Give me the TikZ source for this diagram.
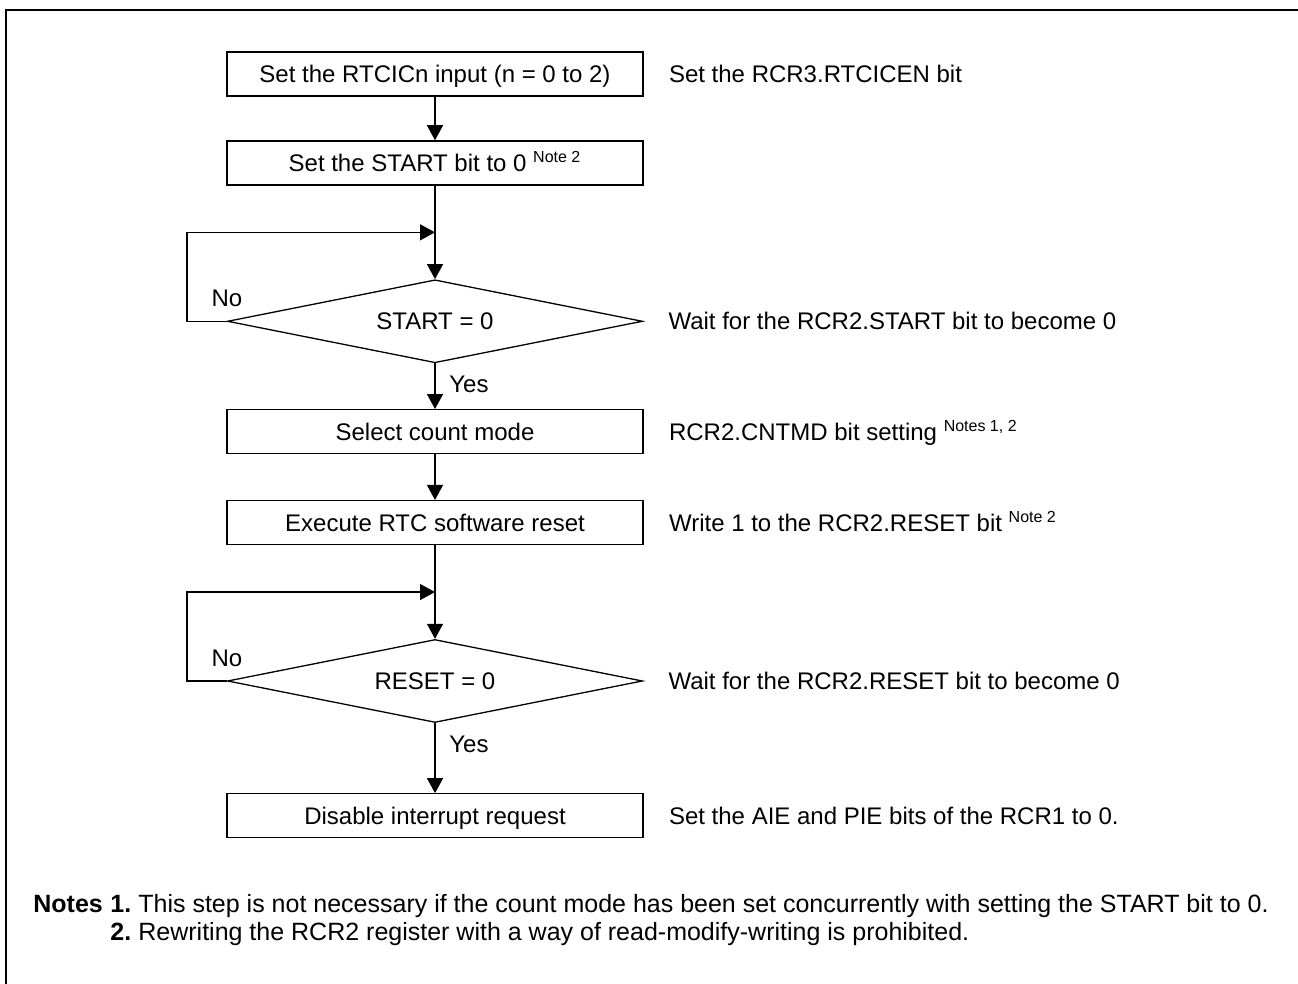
\documentclass[tikz,border=0pt]{standalone}
\usepackage{fontspec}
\setmainfont{Liberation Sans}
\usepackage{tikz}
\usetikzlibrary{positioning, arrows.meta, shapes.geometric, calc}

\begin{document}
\begin{tikzpicture}[
    x=0.5pt, y=-0.5pt,
    font=\fontsize{12}{14.4}\selectfont,
    >={Triangle[length=7.5pt, width=8pt]},
    proc/.style={
        draw, line width=0.65pt, align=center,
        minimum width=208pt, minimum height=22pt, inner sep=0pt,
        text height=8.6pt, text depth=0pt,
    },
    decide/.style={
        draw, line width=0.65pt, shape=diamond, aspect=5,
        minimum width=207.5pt, minimum height=41.5pt, inner sep=0pt,
        text height=8.6pt, text depth=0pt,
    },
    note/.style={inner sep=0pt, text height=8.6pt, text depth=0pt},
    lbl/.style={inner sep=0pt},
    foot/.style={inner sep=0pt, anchor=base west, font=\fontsize{12.5}{15}\selectfont},
    arr/.style={->, line width=0.65pt},
    frame/.style={line width=1pt},
]
\useasboundingbox (0,0) rectangle (1298,984);

% --- Frame --------------------------------------------------
\draw[frame] (1298,10) -| (6,984);

% --- Flow ---------------------------------------------------
\node[proc] (rtcic) at (435,74) {Set the RTCICn input (n = 0 to 2)};
\node[proc, below=21.8pt of rtcic] (start)
    {Set the START bit to 0 \textsuperscript{Note 2}};
\node[decide, below=46.8pt of start] (startq) {START = 0};
\node[proc, below=22.8pt of startq] (cntmd) {Select count mode};
\node[proc, below=22.8pt of cntmd] (swrst) {Execute RTC software reset};
\node[decide, below=46.8pt of swrst] (resetq) {RESET = 0};
\node[proc, below=35pt of resetq] (intr) {Disable interrupt request};

% --- Arrows -------------------------------------------------
\draw[arr] (rtcic) -- (start);
\draw[arr] (start) -- (startq);
\draw[arr] (startq) -- (cntmd);
\draw[arr] (cntmd) -- (swrst);
\draw[arr] (swrst) -- (resetq);
\draw[arr] (resetq) -- (intr);

% --- No loops -----------------------------------------------
\coordinate (loopA) at ($(start.south)!0.5!(startq.north)$);
\coordinate (loopB) at ($(swrst.south)!0.5!(resetq.north)$);
\draw[arr] (startq.west) -- ++(-20pt,0) |- (loopA);
\draw[arr] (resetq.west) -- ++(-20pt,0) |- (loopB);

% --- Branch labels ------------------------------------------
\node[lbl, above=7pt of startq.west] (noA) {No};
\node[lbl, above=7pt of resetq.west] (noB) {No};
\node[lbl, below right=6pt and 7pt of startq.south] (yesA) {Yes};
\node[lbl, below right=6pt and 7pt of resetq.south] (yesB) {Yes};

% --- Register notes -----------------------------------------
\node[note, right=12.5pt of rtcic] (rtcicN) {Set the RCR3.RTCICEN bit};
\node[note, right=12.5pt of startq] (startqN)
    {Wait for the RCR2.START bit to become 0};
\node[note, right=12.5pt of cntmd] (cntmdN)
    {RCR2.CNTMD bit setting \textsuperscript{Notes 1, 2}};
\node[note, right=12.5pt of swrst] (swrstN)
    {Write 1 to the RCR2.RESET bit \textsuperscript{Note 2}};
\node[note, right=12.5pt of resetq] (resetqN)
    {Wait for the RCR2.RESET bit to become 0};
\node[note, right=12.5pt of intr] (intrN)
    {Set the AIE and PIE bits of the RCR1 to 0.};

% --- Footnotes ----------------------------------------------
\node[foot] (notesH) at (33,912) {\textbf{Notes}};
\node[foot] (num1) at (110,912) {\textbf{1.}};
\node[foot] (num2) at (110,940) {\textbf{2.}};
\node[foot] (foot1) at (138,912)
    {This step is not necessary if the count mode has been set concurrently with setting the START bit to 0.};
\node[foot] (foot2) at (138,940)
    {Rewriting the RCR2 register with a way of read-modify-writing is prohibited.};

\end{tikzpicture}
\end{document}
